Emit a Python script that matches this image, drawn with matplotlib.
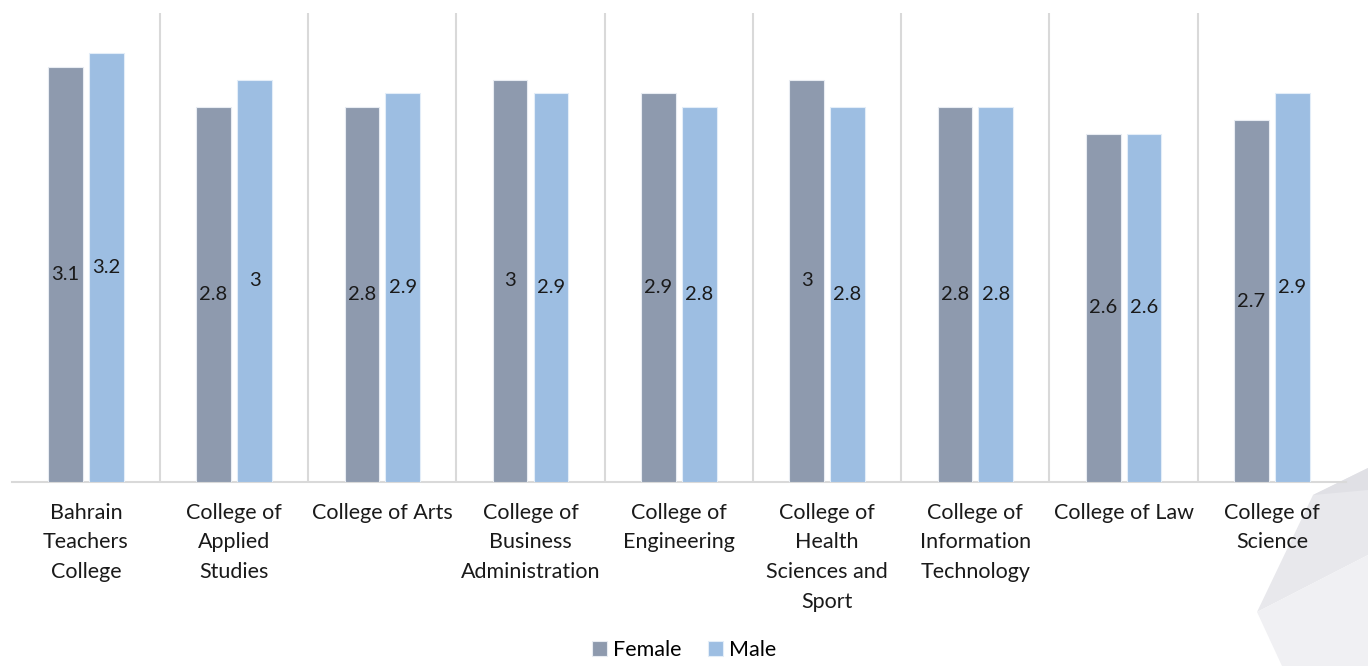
import numpy as np
import matplotlib.pyplot as plt
from matplotlib.patches import Polygon

# Data
colleges = [
    "Bahrain\nTeachers\nCollege",
    "College of\nApplied\nStudies",
    "College of Arts",
    "College of\nBusiness\nAdministration",
    "College of\nEngineering",
    "College of\nHealth\nSciences and\nSport",
    "College of\nInformation\nTechnology",
    "College of Law",
    "College of\nScience",
]
female = [3.1, 2.8, 2.8, 3.0, 2.9, 3.0, 2.8, 2.6, 2.7]
male = [3.2, 3.0, 2.9, 2.9, 2.8, 2.8, 2.8, 2.6, 2.9]

FEMALE_COLOR = "#8E9AAE"
MALE_COLOR = "#9DBEE2"
GRID_COLOR = "#D9D9D9"
TEXT_COLOR = "#1A1A1A"

plt.rcParams['font.family'] = ['Lato', 'DejaVu Sans']

W, H = 1368, 666
fig = plt.figure(figsize=(W / 100, H / 100), dpi=100, facecolor='white')

# decorative faceted shape in lower-right corner (behind everything)
def px(x, y):
    return (x / W, 1 - y / H)

shapes = [
    ([(1368, 468), (1313, 495), (1257, 612), (1368, 555)], "#E8E8EC"),
    ([(1257, 612), (1368, 555), (1368, 666), (1282, 666)], "#F0F0F3"),
    ([(1313, 495), (1368, 468), (1368, 490)], "#E0E0E5"),
]
for pts, c in shapes:
    fig.patches.append(Polygon([px(*p) for p in pts], closed=True,
                               transform=fig.transFigure, facecolor=c,
                               edgecolor='none', zorder=-10))

ax = fig.add_axes([11.7 / W, 1 - 482 / H, (1346 - 11.7) / W, (482 - 13) / H])
ax.set_facecolor('none')
ax.set_zorder(1)

x = np.arange(len(colleges))
bw = 0.234
off = 0.138

b1 = ax.bar(x - off, female, bw, color=FEMALE_COLOR, edgecolor='#E8ECF2',
            linewidth=0.8, label='Female', zorder=3)
b2 = ax.bar(x + off, male, bw, color=MALE_COLOR, edgecolor='#E3EDF8',
            linewidth=0.8, label='Male', zorder=3)

for bars, vals in ((b1, female), (b2, male)):
    for bar, v in zip(bars, vals):
        ax.text(bar.get_x() + bar.get_width() / 2, v / 2, f"{v:g}",
                ha='center', va='center', fontsize=14.5, color=TEXT_COLOR, zorder=4)

ax.set_xlim(-0.5, len(colleges) - 0.5)
ax.set_ylim(0, 3.5)

# vertical separators between categories
ax.set_xticks(np.arange(0.5, len(colleges) - 0.5, 1), minor=True)
ax.grid(True, which='minor', axis='x', color=GRID_COLOR, linewidth=1.5, zorder=0)
ax.tick_params(which='both', length=0)

ax.set_xticks(x)
ax.set_xticklabels(colleges, fontsize=15.5, color=TEXT_COLOR, linespacing=1.6, va='top')
ax.tick_params(axis='x', pad=15)
ax.set_yticks([])

for s in ('top', 'left', 'right'):
    ax.spines[s].set_visible(False)
ax.spines['bottom'].set_color(GRID_COLOR)
ax.spines['bottom'].set_linewidth(1.5)

fig.legend(handles=[b1, b2], labels=['Female', 'Male'], loc='center',
           bbox_to_anchor=(0.5, 1 - 650 / H), ncol=2, frameon=False,
           fontsize=15.5, handlelength=0.7, handleheight=0.7,
           handletextpad=0.3, columnspacing=1.2)

fig.savefig('out.png', dpi=100, facecolor='white')
